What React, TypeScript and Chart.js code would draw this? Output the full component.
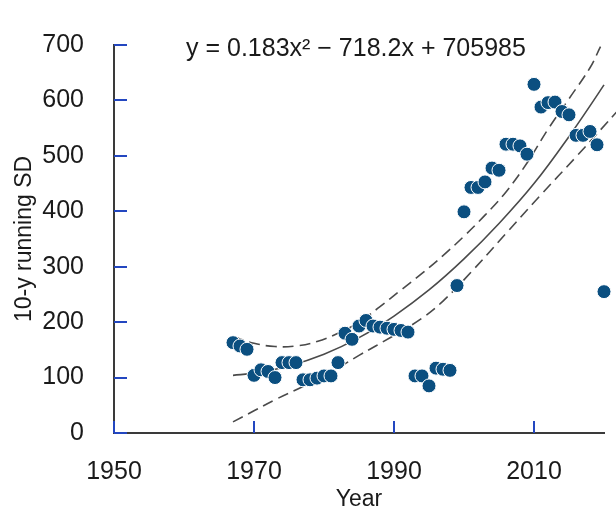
import { useEffect, useRef } from "react";
import { Chart, registerables } from "chart.js";

Chart.register(...registerables);

// ---- data ----
const years = [
  1967, 1968, 1969, 1970, 1971, 1972, 1973, 1974, 1975, 1976,
  1977, 1978, 1979, 1980, 1981, 1982, 1983, 1984, 1985, 1986,
  1987, 1988, 1989, 1990, 1991, 1992, 1993, 1994, 1995, 1996,
  1997, 1998, 1999, 2000, 2001, 2002, 2003, 2004, 2005, 2006,
  2007, 2008, 2009, 2010, 2011, 2012, 2013, 2014, 2015, 2016,
  2017, 2018, 2019, 2020,
];
const sdValues = [
  163, 157, 151, 104, 114, 111, 100, 127, 127, 127,
  96, 96, 99, 103, 103, 127, 180, 169, 193, 203,
  193, 191, 189, 187, 185, 182, 103, 103, 85, 117,
  115, 113, 266, 399, 443, 443, 453, 478, 474, 521,
  521, 518, 503, 629, 588, 596, 597, 580, 574, 537,
  537, 544, 520, 255,
];

const fitYears = [1967, 1970, 1975, 1980, 1985, 1990, 1995, 2000, 2005, 2010, 2015, 2020, 2022];
const fitValues = [104, 108, 121, 142, 172, 211, 258, 314, 378, 450, 535, 628, 668];

const upperYears = [1967, 1970, 1973, 1976, 1979, 1982, 1985, 1988, 1991, 1994, 1997, 2000, 2003, 2006, 2009, 2012, 2015, 2018, 2019.5];
const upperValues = [174, 162, 156, 157, 165, 180, 200, 228, 258, 288, 320, 355, 393, 435, 487, 548, 603, 659, 697];

const lowerYears = [1967, 1970, 1973, 1977, 1981, 1985, 1990, 1994, 1997, 2001, 2006, 2011, 2016, 2022];
const lowerValues = [20, 40, 60, 84, 110, 140, 176, 207, 238, 290, 360, 430, 498, 582];

const xTicks = [1950, 1970, 1990, 2010];
const yTicks = [0, 100, 200, 300, 400, 500, 600, 700];

const equationText = "y = 0.183x\u00b2 \u2212 718.2x + 705985";
const xTitle = "Year";
const yTitle = "10-y running SD";

const FONT = '"Liberation Sans", Arial, sans-serif';
const POINT_COLOR = "#0b4f80";
const LINE_COLOR = "#4a4a4a";
const AXIS_COLOR = "#3a3a3a";
const TICK_COLOR = "#2347c0";
const TEXT_COLOR = "#1a1a1a";

const pairs = (xs: number[], ys: number[]) => xs.map((x, i) => ({ x, y: ys[i] }));

const decorPlugin = {
  id: "decor",
  afterDraw(chart: any) {
    const { ctx, chartArea, scales } = chart;
    const x = scales.x;
    const y = scales.y;
    ctx.save();
    ctx.strokeStyle = TICK_COLOR;
    ctx.lineWidth = 2;
    yTicks.forEach((v) => {
      const py = Math.round(y.getPixelForValue(v));
      ctx.beginPath();
      ctx.moveTo(chartArea.left, py);
      ctx.lineTo(chartArea.left + 13, py);
      ctx.stroke();
    });
    xTicks.forEach((v) => {
      const px = Math.round(x.getPixelForValue(v));
      ctx.beginPath();
      ctx.moveTo(px, chartArea.bottom);
      ctx.lineTo(px, chartArea.bottom - 12);
      ctx.stroke();
    });
    ctx.fillStyle = TEXT_COLOR;
    ctx.font = "25px " + FONT;
    ctx.textBaseline = "alphabetic";
    ctx.textAlign = "left";
    ctx.fillText(equationText, 186, 56);
    ctx.restore();
  },
};

export default function App() {
  const canvasRef = useRef<HTMLCanvasElement | null>(null);

  useEffect(() => {
    document.body.style.margin = "0";
    const canvas = canvasRef.current;
    if (!canvas) return;
    const lineBase = {
      type: "line",
      borderColor: LINE_COLOR,
      borderWidth: 1.6,
      pointRadius: 0,
      tension: 0.4,
      fill: false,
      clip: false,
      order: 2,
    };
    const chart = new Chart(canvas, {
      type: "scatter",
      data: {
        datasets: [
          { ...lineBase, data: pairs(upperYears, upperValues), borderDash: [11, 6] } as any,
          { ...lineBase, data: pairs(fitYears, fitValues) } as any,
          { ...lineBase, data: pairs(lowerYears, lowerValues), borderDash: [11, 6] } as any,
          {
            data: pairs(years, sdValues),
            backgroundColor: POINT_COLOR,
            borderColor: "#ffffff",
            borderWidth: 1,
            pointRadius: 7,
            clip: false,
            order: 1,
          } as any,
        ],
      },
      options: {
        animation: false,
        responsive: false,
        maintainAspectRatio: false,
        layout: { padding: { top: 26, right: 12, left: 0, bottom: 0 } },
        plugins: {
          legend: { display: false },
          tooltip: { enabled: false },
        },
        scales: {
          x: {
            type: "linear",
            min: 1950,
            max: 2020,
            afterBuildTicks: (axis: any) => {
              axis.ticks = xTicks.map((v) => ({ value: v }));
            },
            afterFit: (axis: any) => {
              axis.height = 82;
            },
            grid: { display: false, drawTicks: false },
            border: { display: true, color: AXIS_COLOR, width: 2 },
            ticks: {
              color: TEXT_COLOR,
              font: { family: FONT, size: 25 },
              padding: 24,
              maxRotation: 0,
              callback: (v: any) => String(v),
            },
            title: {
              display: true,
              text: xTitle,
              color: TEXT_COLOR,
              font: { family: FONT, size: 23 },
              padding: { top: 0, bottom: 2 },
            },
          },
          y: {
            type: "linear",
            min: 0,
            max: 700,
            afterBuildTicks: (axis: any) => {
              axis.ticks = yTicks.map((v) => ({ value: v }));
            },
            afterFit: (axis: any) => {
              axis.width = 114;
            },
            grid: { display: false, drawTicks: false },
            border: { display: true, color: AXIS_COLOR, width: 2 },
            ticks: {
              color: TEXT_COLOR,
              font: { family: FONT, size: 25 },
              padding: 30,
              callback: (v: any) => String(v),
            },
            title: {
              display: true,
              text: yTitle,
              color: TEXT_COLOR,
              font: { family: FONT, size: 23 },
              padding: { top: 11, bottom: 0 },
            },
          },
        },
      },
      plugins: [decorPlugin],
    });
    return () => chart.destroy();
  }, []);

  return (
    <div style={{ width: 616, height: 515, background: "#ffffff" }}>
      <canvas ref={canvasRef} width={616} height={515} style={{ display: "block" }} />
    </div>
  );
}
